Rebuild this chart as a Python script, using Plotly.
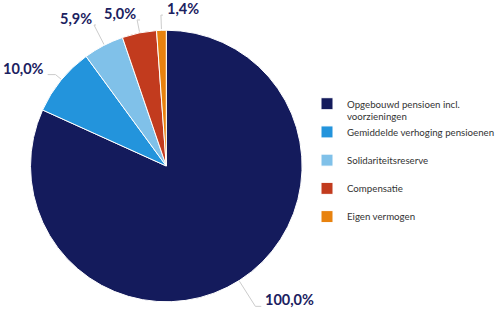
import math
import plotly.graph_objects as go

# ---- data ----
categories = [
    "Opgebouwd pensioen incl.<br>voorzieningen",
    "Gemiddelde verhoging pensioenen<br> ",
    "Solidariteitsreserve<br> ",
    "Compensatie<br> ",
    "Eigen vermogen<br> ",
]
values = [100.0, 10.0, 5.9, 5.0, 1.4]
colors = ["#141b5c", "#2394dc", "#80c1e9", "#c23b1e", "#e8820e"]
label_color = "#1b2160"

# ---- layout / style constants (connector geometry per slice) ----
W, H = 500, 333
CX, CY, R = 169, 166, 137
DOM_R = R + 1
radial_len = [30, 8, 22, 12, 14]
tail_len = [6, -8, 2, 3, 2]
label_side = ["left", "right", "right", "right", "left"]  # xanchor of the value text

fig = go.Figure()
fig.add_trace(go.Pie(
    labels=categories,
    values=values,
    sort=False,
    direction="clockwise",
    rotation=0,
    textinfo="none",
    hoverinfo="label+value",
    marker=dict(colors=colors, line=dict(color="white", width=1)),
    domain=dict(x=[(CX - DOM_R) / W, (CX + DOM_R) / W],
                y=[1 - (CY + DOM_R) / H, 1 - (CY - DOM_R) / H]),
))

# connectors and value labels, derived from the slice angles
total = sum(values)
cum = 0.0
annotations = []
for v, d, t, side in zip(values, radial_len, tail_len, label_side):
    mid = (cum + v / 2) / total * 2 * math.pi
    cum += v
    s, co = math.sin(mid), math.cos(mid)
    ex, ey = CX + R * s, CY - R * co
    px, py = CX + (R + d) * s, CY - (R + d) * co
    tx = px + t
    fig.add_trace(go.Scatter(
        x=[ex, px, tx], y=[ey, py, py], mode="lines",
        line=dict(color="#cccccc", width=1), hoverinfo="skip", showlegend=False,
    ))
    txt = f"{v:.1f}".replace(".", ",") + "%"
    annotations.append(dict(
        x=tx + (2 if side == "left" else -2), y=py + 4, xref="x", yref="y",
        text=txt, showarrow=False, xanchor=side, yanchor="bottom",
        font=dict(family="Lato", size=14.5, color=label_color, weight="bold"),
    ))

fig.update_layout(
    width=W, height=H,
    margin=dict(l=0, r=0, t=0, b=0),
    paper_bgcolor="white", plot_bgcolor="white",
    xaxis=dict(range=[0, W], visible=False, fixedrange=True),
    yaxis=dict(range=[H, 0], visible=False, fixedrange=True),
    annotations=annotations,
    showlegend=True,
    legend=dict(
        x=0.624, y=0.727, xanchor="left", yanchor="top",
        valign="top", traceorder="normal",
        font=dict(family="Lato", size=9.7, color="#333333"),
        bgcolor="rgba(0,0,0,0)",
    ),
)

fig.write_html("out.html")
